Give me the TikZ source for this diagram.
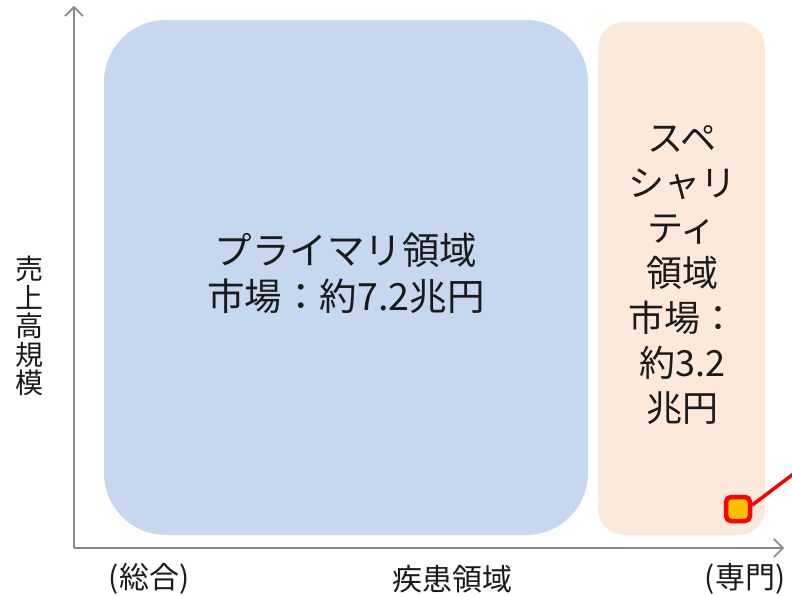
\documentclass[tikz,border=0pt]{standalone}
\usepackage{fontspec}
\setmainfont{Noto Sans CJK JP}
\usetikzlibrary{arrows.meta}
\definecolor{bluebox}{HTML}{C6D8EF}
\definecolor{orangebox}{HTML}{FDE9DA}
\definecolor{axisgray}{HTML}{888888}
\definecolor{txt}{HTML}{1A1A1A}
\definecolor{sqfill}{HTML}{FFC000}
\tikzset{
  axis/.style={draw=axisgray, line width=1.6pt, -{Straight Barb[length=9pt,width=18pt,line width=1.6pt]}},
  lbl/.style={text=txt, font=\fontsize{30}{30}\selectfont, inner sep=0pt},
  big/.style={text=txt, font=\fontsize{36}{45}\selectfont, align=center, inner sep=0pt},
}
\begin{document}
\begin{tikzpicture}[x=1pt,y=-1pt]
\useasboundingbox (0,0) rectangle (792,596);
% boxes
\fill[bluebox, rounded corners=62pt] (104,20) rectangle (588,535);
\fill[orangebox, rounded corners=26pt] (598,22) rectangle (765,535);
% axes
\coordinate (o) at (74,548);
\coordinate (ytop) at (74,6);
\coordinate (xend) at (784,548);
\draw[axis] (o) -- (ytop);
\draw[axis] (o) -- (xend);
% texts
\node[big, font=\fontsize{37.5}{46}\selectfont] (prim) at (346,273) {プライマリ領域\\市場：約7.2兆円};
\node[big] (spec) at (682,275) {スペ\\シャリ\\ティ\\領域\\市場：\\約3.2\\兆円};
\node[lbl, align=center, font=\fontsize{28}{28.6}\selectfont] (ylab) at (30,326) {売\\上\\高\\規\\模};
\node[lbl] (xl) at (149,579) {(総合)};
\node[lbl] (xm) at (452,579) {疾患領域};
\node[lbl] (xr) at (745,579) {(専門)};
% marker
\node[draw=red, fill=sqfill, line width=4.5pt, rounded corners=5pt, minimum size=24pt, inner sep=0pt] (sq) at (738,509) {};
\coordinate (off) at (800,469);
\draw[red, line width=3.5pt] (sq.east) ++(0,-4) -- (off);
\end{tikzpicture}
\end{document}
